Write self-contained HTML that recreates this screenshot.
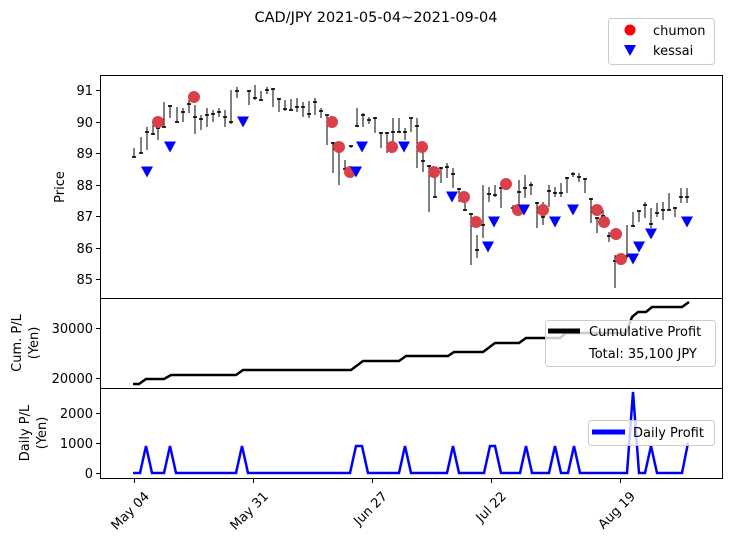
<!DOCTYPE html>
<html><head><meta charset="utf-8"><style>
html,body{margin:0;padding:0;background:#fff;width:730px;height:543px;overflow:hidden}
svg{display:block;font-family:"DejaVu Sans","Liberation Sans",sans-serif}
</style></head><body>
<svg id="s" width="730" height="543" viewBox="0 0 730 543" xmlns="http://www.w3.org/2000/svg">
<text x="376" y="22" font-size="14.5" text-anchor="middle">CAD/JPY 2021-05-04~2021-09-04</text>
<rect x="608.5" y="18.5" width="106" height="46" rx="3" fill="#fff" stroke="#ccc"/>
<circle cx="630" cy="30" r="5.5" fill="#ff0000"/>
<polygon points="624,45 636,45 630,56" fill="#0000ff"/>
<text x="653" y="35" font-size="13">chumon</text>
<text x="653" y="55" font-size="13">kessai</text>
<g id="candles"></g>
<g id="marks"></g>
<rect x="100.5" y="75.5" width="622" height="223" fill="none" stroke="#000"/>
<rect x="100.5" y="298.5" width="622" height="90" fill="none" stroke="#000"/>
<rect x="100.5" y="388.5" width="622" height="90" fill="none" stroke="#000"/>
<g font-size="13" text-anchor="end" id="yt"></g>
<text transform="translate(64,187) rotate(-90)" font-size="13" text-anchor="middle">Price</text>
<text transform="translate(21,343) rotate(-90)" font-size="13" text-anchor="middle">Cum. P/L</text>
<text transform="translate(38,343) rotate(-90)" font-size="13" text-anchor="middle">(Yen)</text>
<text transform="translate(29,433) rotate(-90)" font-size="13" text-anchor="middle">Daily P/L</text>
<text transform="translate(46,433) rotate(-90)" font-size="13" text-anchor="middle">(Yen)</text>
<polyline fill="none" stroke="#000" stroke-width="2.5" points="133,384 139,384 146,379 164,379 171,375 236,375 243,370 351,370 363,361 399,361 406,356 448,356 454,352 483,352 495,343 519,343 526,338 560,338 566,333 626,333 632,317 638,312 646,312 652,307 682,307 689,302"/>
<rect x="545.5" y="320.5" width="170" height="46" rx="3" fill="#fff" fill-opacity="0.8" stroke="#ccc"/>
<line x1="548" y1="331" x2="580" y2="331" stroke="#000" stroke-width="5"/>
<text x="589" y="336" font-size="13">Cumulative Profit</text>
<text x="589" y="358" font-size="13">Total: 35,100 JPY</text>
<polyline id="daily" fill="none" stroke="#0000ff" stroke-width="2.5"/>
<rect x="588.5" y="420.5" width="126" height="25" rx="3" fill="#fff" fill-opacity="0.8" stroke="#ccc"/>
<line x1="592" y1="432" x2="625" y2="432" stroke="#0000ff" stroke-width="5"/>
<text x="633" y="437" font-size="13">Daily Profit</text>
<g id="xt" font-size="13"></g>
</svg>
<script>
var NS="http://www.w3.org/2000/svg";
function el(p,t,a){var e=document.createElementNS(NS,t);for(var k in a)e.setAttribute(k,a[k]);p.appendChild(e);return e;}
var C=[[134,148,158,157],[141,137,153,153],[147,127,150,132],[153,120,135,134],[158,118,140,128],[164,102,127,127],[170,105,118,106],[177,107,123,122],[183,108,122,112],[189,100,113,104],[195,105,134,117],[201,115,130,119],[207,108,127,115],[213,110,122,114],[219,108,117,112],[225,110,127,117],[231,90,124,122],[237,87,98,91],[249,90,105,91],[255,85,100,98],[261,91,101,100],[267,87,94,90],[273,88,107,89],[279,98,112,99],[285,100,111,109],[291,99,111,110],[297,98,112,107],[303,102,117,107],[309,101,118,114],[315,98,115,102],[321,108,118,111],[327,115,145,115],[333,142,173,143],[339,148,185,150],[345,160,175,169],[351,145,148,146],[357,108,127,126],[363,113,127,115],[369,117,124,120],[375,117,133,118],[381,132,148,133],[387,132,153,133],[393,118,150,132],[399,118,133,132],[405,128,140,132],[411,118,132,118],[417,118,168,126],[423,150,172,161],[429,165,212,166],[435,172,197,197],[441,167,183,168],[447,163,178,167],[453,168,188,174],[459,188,202,189],[465,193,210,210],[471,213,265,214],[477,235,258,250],[483,185,238,225],[489,187,202,194],[495,185,197,195],[501,185,208,188],[507,182,190,186],[513,205,212,208],[519,180,207,192],[525,175,198,188],[531,182,195,185],[537,202,228,203],[543,202,225,217],[549,185,207,191],[555,187,197,193],[561,183,197,193],[567,177,193,178],[573,172,177,174],[579,173,182,177],[585,178,193,179],[591,198,223,199],[597,217,233,218],[603,210,224,216],[609,232,242,236],[615,255,288,261],[621,255,262,259],[627,225,258,256],[633,212,227,226],[639,210,222,211],[645,202,218,205],[651,208,228,224],[657,203,217,213],[663,202,220,210],[669,193,210,210],[675,207,217,208],[681,188,203,197],[687,188,203,197]];
var g=document.getElementById('candles');
C.forEach(function(c){el(g,'line',{x1:c[0],y1:c[1],x2:c[0],y2:c[2],stroke:'#000','stroke-width':1});el(g,'line',{x1:c[0]-2,y1:c[3],x2:c[0]+2,y2:c[3],stroke:'#000','stroke-width':1.6});});
var m=document.getElementById('marks');
var R=[[158,122],[194,97],[332,122],[339,147],[350,172],[392,147],[422,147],[434,172],[464,197],[476,222],[506,184],[518,210],[543,210],[597,210],[604,222],[616,234],[621,259]];
var B=[[147,172],[170,147],[243,122],[356,172],[362,147],[404,147],[452,197],[488,247],[494,222],[524,210],[555,222],[573,210],[633,259],[639,247],[651,234],[687,222]];
R.forEach(function(p){el(m,'circle',{cx:p[0],cy:p[1],r:6,fill:'#d9404a'});});
B.forEach(function(p){el(m,'polygon',{points:(p[0]-6)+','+(p[1]-5.5)+' '+(p[0]+6)+','+(p[1]-5.5)+' '+p[0]+','+(p[1]+5.5),fill:'#0000ff'});});
var yt=document.getElementById('yt');
[[91,90],[90,122],[89,153],[88,185],[87,216],[86,248],[85,279],[30000,328],[20000,378],[2000,413],[1000,443],[0,473]].forEach(function(t){
 el(yt,'line',{x1:96,y1:t[1]+.5,x2:100,y2:t[1]+.5,stroke:'#000'});
 var e=el(yt,'text',{x:93,y:t[1]+5});e.textContent=t[0];});
var pk=[[146,446],[170,446],[242,446],[356,446,362],[405,446],[453,446],[490,446,495],[526,446],[555,446],[574,446],[633,392],[651,446]];
var pts=['133,473'];pk.forEach(function(p){var a=p[0],b=p[2]||p[0];pts.push((a-6)+',473',a+','+p[1],b+','+p[1],(b+6)+',473');});
pts.push('682,473','688,443');document.getElementById('daily').setAttribute('points',pts.join(' '));
var xt=document.getElementById('xt');
[['May 04',134],['May 31',253],['Jun 27',372],['Jul 22',491],['Aug 19',620]].forEach(function(t){
 el(xt,'line',{x1:t[1]+.5,y1:479,x2:t[1]+.5,y2:483,stroke:'#000'});
 var e=el(xt,'text',{transform:'translate('+(t[1]+16)+',497) rotate(-45)','text-anchor':'end'});e.textContent=t[0];});
</script>
</body></html>
